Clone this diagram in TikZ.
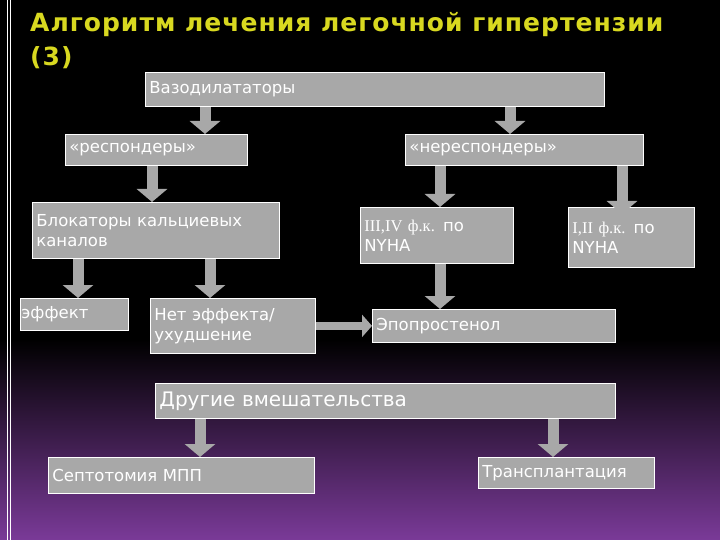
\documentclass[tikz,border=0pt]{standalone}
\usepackage{fontspec}
\setmainfont{DejaVu Sans}
\newfontfamily\serifnum{Liberation Serif}
\usetikzlibrary{arrows.meta}
\definecolor{boxgray}{HTML}{A8A8A8}
\definecolor{purp}{HTML}{7A3A98}
\definecolor{titley}{HTML}{D8D820}
\begin{document}
\begin{tikzpicture}[x=1pt,y=-1pt,
  box/.style={fill=boxgray,draw=white,line width=0.8pt,text=white,anchor=north west,
    inner sep=4pt,align=left,font=\fontsize{16.5}{20}\selectfont,minimum height=#1},
  box/.default=31pt,
  barrow/.style={draw=boxgray,line width=11pt,-{Triangle[width=30pt,length=13pt]}}]
\useasboundingbox (0,0) rectangle (720,540);
\fill[black] (0,0) rectangle (720,340);
\shade[top color=black,bottom color=purp] (0,339.5) rectangle (720,540);
\draw[white,line width=0.8pt] (7,0) -- (7,540) (10,0) -- (10,540);
\node[anchor=north west,text=titley,font=\bfseries\fontsize{25}{34}\selectfont\addfontfeatures{LetterSpace=4},align=left,inner sep=0pt] (title) at (30,12) {Алгоритм лечения легочной гипертензии\\(3)};
\node[box=34pt,text width=451pt] (vaz) at (145,72) {Вазодилататоры};
\node[box,text width=174pt] (resp) at (65,134) {«респондеры»};
\node[box,text width=230pt] (nresp) at (405,134) {«нереспондеры»};
\node[box=56pt,text width=239pt] (blk) at (32,202) {Блокаторы кальциевых\\каналов};
\node[box=56pt,text width=145pt] (t34) at (360,207) {{\serifnum III,IV ф.к.} по\\NYHA};
\node[box=60pt,text width=118pt] (t12) at (568,207) {{\serifnum I,II ф.к.} по\\NYHA};
\node[box=32pt,text width=106pt,inner sep=1pt] (eff) at (20,298) {эффект};
\node[box=55pt,text width=157pt] (neff) at (150,298) {Нет эффекта/\\ухудшение};
\node[box=33pt,text width=235pt] (epo) at (372,309) {Эпопростенол};
\node[box=35pt,text width=452pt,font=\fontsize{20}{24}\selectfont] (oth) at (155,383) {Другие вмешательства};
\node[box=36pt,text width=258pt] (sep) at (48,457) {Септотомия МПП};
\node[box=31pt,text width=168pt] (trn) at (478,457) {Трансплантация};
\draw[barrow] ([xshift=60]vaz.south west) -- ([xshift=140]resp.north west);
\draw[barrow] ([xshift=365]vaz.south west) -- ([xshift=105]nresp.north west);
\draw[barrow] ([xshift=87]resp.south west) -- ([xshift=120]blk.north west);
\draw[barrow] ([xshift=35]nresp.south west) -- ([xshift=80]t34.north west);
\draw[barrow] ([xshift=217]nresp.south west) -- ([xshift=54,yshift=-7]t12.north west);
\draw[barrow] ([xshift=46]blk.south west) -- ([xshift=58]eff.north west);
\draw[barrow] ([xshift=178]blk.south west) -- ([xshift=60]neff.north west);
\draw[barrow] ([xshift=80]t34.south west) -- ([xshift=68]epo.north west);
\draw[barrow,line width=8pt,-{Triangle[width=22pt,length=10pt]}] (neff.east) -- (neff.east -| epo.west);
\draw[barrow] ([xshift=45]oth.south west) -- ([xshift=152]sep.north west);
\draw[barrow] ([xshift=398]oth.south west) -- ([xshift=75]trn.north west);
\end{tikzpicture}
\end{document}
